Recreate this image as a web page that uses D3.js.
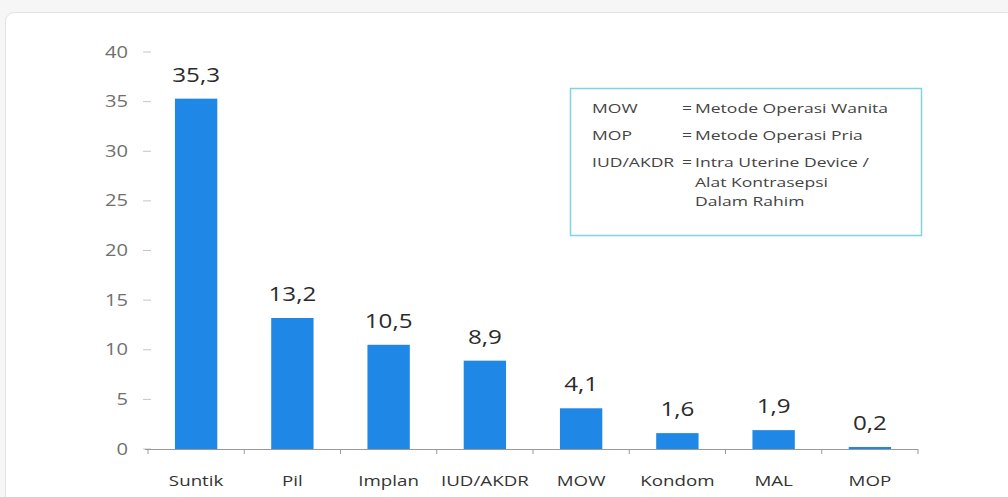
<!DOCTYPE html>
<html>
<head>
<meta charset="utf-8">
<script src="https://cdn.jsdelivr.net/npm/d3@7"></script>
<style>
  body { margin: 0; background: #f6f6f6; }
  svg { display: block; }
</style>
</head>
<body>
<svg id="chart" width="1008" height="497"></svg>
<script>
const categories = ["Suntik", "Pil", "Implan", "IUD/AKDR", "MOW", "Kondom", "MAL", "MOP"];
const values = [35.3, 13.2, 10.5, 8.9, 4.1, 1.6, 1.9, 0.2];
const y_ticks = [0, 5, 10, 15, 20, 25, 30, 35, 40];
const legend_terms = ["MOW", "MOP", "IUD/AKDR"];
const legend_texts = [["Metode Operasi Wanita"], ["Metode Operasi Pria"],
    ["Intra Uterine Device /", "Alat Kontrasepsi", "Dalam Rahim"]];

const svg = d3.select("#chart");
const font = "'Open Sans', sans-serif";

// the source picture is stretched sideways, so text gets a horizontal scale
function stretched_text(parent, x, y, s, size, sx, anchor, fill) {
    return parent.append("text")
        .attr("transform", "translate(" + x + "," + y + ") scale(" + sx + ",1)")
        .attr("text-anchor", anchor)
        .attr("font-family", font).attr("font-size", size)
        .attr("fill", fill)
        .text(s);
}

// card
svg.append("rect")
    .attr("x", 5.5).attr("y", 12.5)
    .attr("width", 1010).attr("height", 500)
    .attr("rx", 9)
    .attr("fill", "#fff")
    .attr("stroke", "#e2e2e2");

const x = d3.scaleBand().domain(categories).range([148, 918]).paddingInner(0.56).paddingOuter(0.28);
const y = d3.scaleLinear().domain([0, 40]).range([449, 52]);

// y axis ticks and labels
const gy = svg.append("g");
gy.selectAll("line").data(y_ticks).join("line")
    .attr("x1", 143).attr("x2", 151)
    .attr("y1", d => y(d)).attr("y2", d => y(d))
    .attr("stroke", "#c4c4c4");
y_ticks.forEach(d => {
    stretched_text(gy, 128, y(d) + 5.5, d, 15.5, 1.3, "end", "#707070");
});

// bars
svg.append("g").selectAll("rect").data(values).join("rect")
    .attr("x", (d, i) => x(categories[i]))
    .attr("y", d => y(d))
    .attr("width", x.bandwidth())
    .attr("height", d => y(0) - y(d))
    .attr("fill", "#1f87e6");

// x axis
const bounds = d3.range(categories.length + 1).map(i => 148 + i * (770 / categories.length));
svg.append("line")
    .attr("x1", 145).attr("x2", 918)
    .attr("y1", y(0) + 0.5).attr("y2", y(0) + 0.5)
    .attr("stroke", "#999");
svg.append("g").selectAll("line").data(bounds).join("line")
    .attr("x1", d => d).attr("x2", d => d)
    .attr("y1", y(0)).attr("y2", y(0) + 5)
    .attr("stroke", "#999");

const gx = svg.append("g");
categories.forEach(c => {
    stretched_text(gx, x(c) + x.bandwidth() / 2, 486, c, 15, 1.25, "middle", "#333");
});

// value labels
const gv = svg.append("g");
values.forEach((v, i) => {
    stretched_text(gv, x(categories[i]) + x.bandwidth() / 2, y(v) - 17,
        v.toFixed(1).replace(".", ","), 20.5, 1.18, "middle", "#2b2b2b");
});

// legend box
const lg = svg.append("g");
lg.append("rect")
    .attr("x", 570.5).attr("y", 88.5)
    .attr("width", 351).attr("height", 147)
    .attr("fill", "#fff")
    .attr("stroke", "#7fd3e3").attr("stroke-width", 1.5);

const term_y = [113, 140, 167];
legend_terms.forEach((t, i) => {
    stretched_text(lg, 592, term_y[i], t, 13.5, 1.3, "start", "#444");
    stretched_text(lg, 682, term_y[i], "=", 13.5, 1.3, "start", "#444");
    legend_texts[i].forEach((s, j) => {
        stretched_text(lg, 695, term_y[i] + j * 19.5, s, 13.5, 1.3, "start", "#444");
    });
});
</script>
</body>
</html>
